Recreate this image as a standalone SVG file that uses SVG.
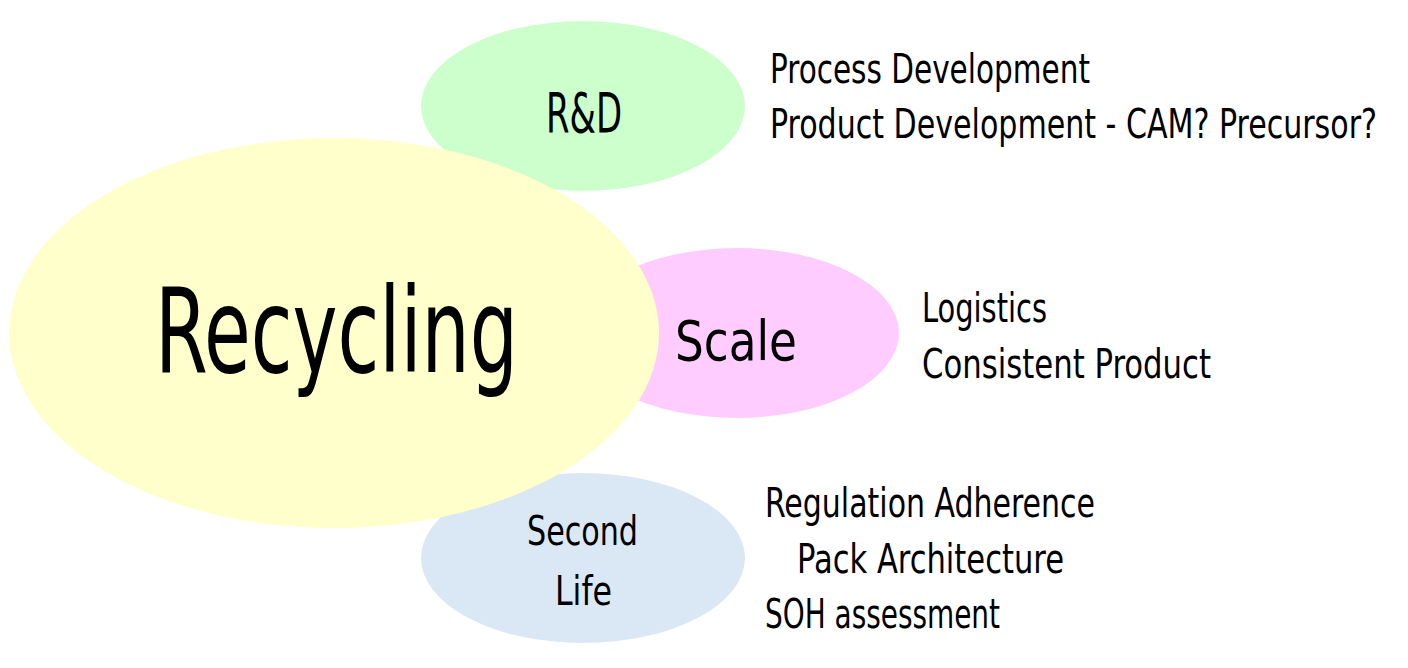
<svg xmlns="http://www.w3.org/2000/svg" width="1408" height="668" viewBox="0 0 1408 668">
<style>
text{font-family:"Liberation Sans Narrow","DejaVu Sans Condensed","Liberation Sans",sans-serif;fill:#000;}
.note{font-size:40px;}
.lbl{font-size:56px;}
</style>
<rect width="1408" height="668" fill="#fff"/>
<g id="rd">
<ellipse cx="583" cy="106" rx="162" ry="85" fill="#CCFFCC"/>
<text class="lbl" x="546" y="132" textLength="76" lengthAdjust="spacingAndGlyphs">R&amp;D</text>
</g>
<g id="scale">
<ellipse cx="737" cy="333" rx="162" ry="85" fill="#FFCCFF"/>
<text class="lbl" x="675" y="360" textLength="122" lengthAdjust="spacingAndGlyphs">Scale</text>
</g>
<g id="second-life">
<ellipse cx="583" cy="558" rx="162" ry="85" fill="#DAE8F5"/>
<text class="note" x="527" y="545" textLength="111" lengthAdjust="spacingAndGlyphs">Second</text>
<text class="note" x="555" y="605" textLength="57" lengthAdjust="spacingAndGlyphs">Life</text>
</g>
<g id="recycling">
<ellipse cx="334" cy="333" rx="325" ry="195" fill="#FFFFCC"/>
<text x="155" y="372" font-size="118" textLength="363" lengthAdjust="spacingAndGlyphs">Recycling</text>
</g>
<g id="rd-notes">
<text class="note" x="770" y="83" textLength="320" lengthAdjust="spacingAndGlyphs">Process Development</text>
<text class="note" x="770" y="138" textLength="607" lengthAdjust="spacingAndGlyphs">Product Development - CAM? Precursor?</text>
</g>
<g id="scale-notes">
<text class="note" x="922" y="322" textLength="125" lengthAdjust="spacingAndGlyphs">Logistics</text>
<text class="note" x="922" y="378" textLength="289" lengthAdjust="spacingAndGlyphs">Consistent Product</text>
</g>
<g id="second-life-notes">
<text class="note" x="765" y="517" textLength="330" lengthAdjust="spacingAndGlyphs">Regulation Adherence</text>
<text class="note" x="797" y="573" textLength="267" lengthAdjust="spacingAndGlyphs">Pack Architecture</text>
<text class="note" x="765" y="628" textLength="235" lengthAdjust="spacingAndGlyphs">SOH assessment</text>
</g>
<g id="connectors"></g>
</svg>
